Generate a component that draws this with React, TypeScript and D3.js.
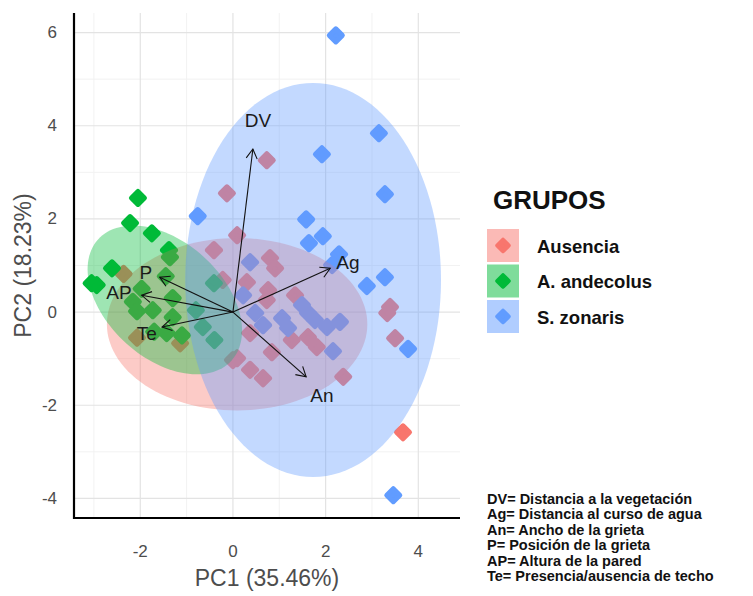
import React from "react";
import * as d3 from "d3";

// groups and colours (ggplot defaults)
const groupNames = ["Ausencia", "A. andecolus", "S. zonaris"];
const groupColors = ["#F8766D", "#00BA38", "#619CFF"];

// individuals, [PC1, PC2]
const ausencia: [number, number][] = [
  [0.73, 3.26], [-0.13, 2.55], [0.09, 1.65], [-0.41, 1.33], [0.8, 1.16],
  [0.91, 0.94], [0.3, 0.64], [0.76, 0.47], [0.73, 0.26], [1.34, 0.36],
  [1.27, -0.6], [1.62, -0.54], [1.81, -0.75], [0.84, -0.86], [0.09, -0.99],
  [0.37, -1.24], [0.65, -1.42], [0.37, -0.45], [2.38, -1.39], [3.39, 0.11],
  [3.33, -0.02], [3.5, -0.56], [3.67, -2.58], [-2.36, 0.82], [-2.07, -0.55],
  [-1.14, -0.67], [-0.22, 0.69], [0.0, -1.03],
];
const andecolus: [number, number][] = [
  [-2.05, 2.45], [-2.22, 1.91], [-1.75, 1.69], [-1.38, 1.33], [-1.36, 1.18],
  [-2.61, 0.94], [-2.94, 0.58], [-3.05, 0.62], [-1.97, 0.5], [-1.45, 0.77],
  [-2.16, 0.22], [-2.07, 0.02], [-1.73, 0.04], [-1.3, 0.3], [-1.3, -0.11],
  [-1.43, -0.45], [-1.7, -0.42], [-0.41, 0.62], [-0.65, -0.32], [-0.4, -0.6],
  [-0.8, 0.04], [-1.1, -0.5],
];
const zonaris: [number, number][] = [
  [2.22, 5.94], [3.15, 3.84], [1.92, 3.39], [3.28, 2.53], [-0.76, 2.06],
  [1.58, 1.99], [1.94, 1.63], [1.64, 1.48], [2.29, 1.24], [2.14, 1.01],
  [3.28, 0.75], [2.89, 0.56], [3.78, -0.79], [2.16, -0.84], [2.31, -0.21],
  [2.03, -0.32], [0.37, 1.07], [0.48, -0.02], [0.65, -0.28], [1.06, -0.13],
  [1.19, -0.34], [1.49, 0.15], [1.62, -0.02], [1.77, -0.17], [0.22, 0.36],
  [3.46, -3.93],
];
const groupPoints = [ausencia, andecolus, zonaris];

// confidence ellipses per group
const ellipseCx = [0.09, -1.47, 1.73];
const ellipseCy = [-0.26, 0.26, 0.69];
const ellipseRx = [2.81, 1.94, 2.76];
const ellipseRy = [1.85, 1.25, 4.23];
const ellipseAngle = [0, -42, 0];

// variables (loadings)
const varNames = ["DV", "Ag", "An", "P", "AP", "Te"];
const varPC1 = [0.43, 2.1, 1.58, -1.58, -1.97, -1.53];
const varPC2 = [3.5, 0.94, -1.39, 0.75, 0.36, -0.32];
const varLabelPC1 = [0.54, 2.48, 1.92, -1.88, -2.46, -1.86];
const varLabelPC2 = [4.12, 1.07, -1.78, 0.86, 0.41, -0.45];

const xTicks = [-2, 0, 2, 4];
const yTicks = [-4, -2, 0, 2, 4, 6];
const xMinor = [-3, -1, 1, 3];
const yMinor = [-3, -1, 1, 3, 5];

const notes = [
  "DV= Distancia a la vegetación",
  "Ag= Distancia al curso de agua",
  "An= Ancho de la grieta",
  "P= Posición de la grieta",
  "AP= Altura de la pared",
  "Te= Presencia/ausencia de techo",
];

const W = 753, H = 596;
const panel = { left: 74, right: 460, top: 13, bottom: 518 };

const x = d3.scaleLinear().domain([-3.43, 4.9]).range([panel.left, panel.right]);
const y = d3.scaleLinear().domain([-4.42, 6.42]).range([panel.bottom, panel.top]);

const diamond = (cx: number, cy: number, r: number) =>
  `M${cx},${cy - r}L${cx + r},${cy}L${cx},${cy + r}L${cx - r},${cy}Z`;

function ellipsePath(i: number) {
  const a = (ellipseAngle[i] * Math.PI) / 180;
  const pts: [number, number][] = d3.range(0, 361, 3).map((deg) => {
    const t = (deg * Math.PI) / 180;
    const ex = ellipseRx[i] * Math.cos(t), ey = ellipseRy[i] * Math.sin(t);
    return [
      ellipseCx[i] + ex * Math.cos(a) - ey * Math.sin(a),
      ellipseCy[i] + ex * Math.sin(a) + ey * Math.cos(a),
    ];
  });
  return d3.line<[number, number]>().x((d) => x(d[0])).y((d) => y(d[1]))(pts) + "Z";
}

function arrowHead(i: number) {
  const x0 = x(0), y0 = y(0);
  const x1 = x(varPC1[i]), y1 = y(varPC2[i]);
  const ang = Math.atan2(y1 - y0, x1 - x0);
  const len = 11, spread = Math.PI / 6;
  const p1 = [x1 - len * Math.cos(ang - spread), y1 - len * Math.sin(ang - spread)];
  const p2 = [x1 - len * Math.cos(ang + spread), y1 - len * Math.sin(ang + spread)];
  return `M${p1[0]},${p1[1]}L${x1},${y1}L${p2[0]},${p2[1]}`;
}

export default function App() {
  const axisFont = "'Liberation Sans', Arial, sans-serif";
  return (
    <svg width={W} height={H} style={{ position: "absolute", left: 0, top: 0, background: "#fff" }}>
      {/* grid */}
      <g>
        {xMinor.map((v) => (
          <line key={"xm" + v} x1={x(v)} x2={x(v)} y1={panel.top} y2={panel.bottom} stroke="#f2f2f2" strokeWidth={1} />
        ))}
        {yMinor.map((v) => (
          <line key={"ym" + v} y1={y(v)} y2={y(v)} x1={panel.left} x2={panel.right} stroke="#f2f2f2" strokeWidth={1} />
        ))}
        {xTicks.map((v) => (
          <line key={"x" + v} x1={x(v)} x2={x(v)} y1={panel.top} y2={panel.bottom} stroke="#e3e3e3" strokeWidth={1.2} />
        ))}
        {yTicks.map((v) => (
          <line key={"y" + v} y1={y(v)} y2={y(v)} x1={panel.left} x2={panel.right} stroke="#e3e3e3" strokeWidth={1.2} />
        ))}
      </g>

      {/* points */}
      {groupPoints.map((pts, g) => (
        <g key={"pts" + g}>
          {pts.map((d, j) => (
            <path key={j} d={diamond(x(d[0]), y(d[1]), 6.5)} fill={groupColors[g]} stroke={groupColors[g]}
              strokeWidth={5} strokeLinejoin="round" />
          ))}
        </g>
      ))}

      {/* ellipses */}
      {groupNames.map((n, i) => (
        <path key={"el" + n} d={ellipsePath(i)} fill={groupColors[i]} fillOpacity={0.38} stroke="none" />
      ))}

      {/* variable arrows */}
      <g stroke="#111" strokeWidth={1.1} fill="none">
        {varNames.map((n, i) => (
          <g key={"arr" + n}>
            <line x1={x(0)} y1={y(0)} x2={x(varPC1[i])} y2={y(varPC2[i])} />
            <path d={arrowHead(i)} />
          </g>
        ))}
      </g>
      {varNames.map((n, i) => (
        <text key={"lab" + n} x={x(varLabelPC1[i])} y={y(varLabelPC2[i])} textAnchor="middle"
          dominantBaseline="central" fontFamily={axisFont} fontSize={19} fill="#1a1a1a">{n}</text>
      ))}

      {/* axes */}
      <line x1={panel.left} x2={panel.left} y1={panel.top} y2={panel.bottom + 1} stroke="#000" strokeWidth={2.2} />
      <line x1={panel.left - 1} x2={panel.right} y1={panel.bottom} y2={panel.bottom} stroke="#000" strokeWidth={2.2} />
      {xTicks.map((v) => (
        <text key={"xt" + v} x={x(v)} y={551} textAnchor="middle" dominantBaseline="central"
          fontFamily={axisFont} fontSize={17} fill="#4d4d4d">{v}</text>
      ))}
      {yTicks.map((v) => (
        <text key={"yt" + v} x={57} y={y(v)} textAnchor="end" dominantBaseline="central"
          fontFamily={axisFont} fontSize={17} fill="#4d4d4d">{v}</text>
      ))}
      <text x={(panel.left + panel.right) / 2} y={578} textAnchor="middle" dominantBaseline="central"
        fontFamily={axisFont} fontSize={23} fill="#4d4d4d">PC1 (35.46%)</text>
      <text transform={`translate(23,${(panel.top + panel.bottom) / 2}) rotate(-90)`} textAnchor="middle"
        dominantBaseline="central" fontFamily={axisFont} fontSize={23} fill="#4d4d4d">PC2 (18.23%)</text>

      {/* legend */}
      <text x={493} y={209} fontFamily={axisFont} fontWeight="bold" fontSize={26} fill="#111">GRUPOS</text>
      {groupNames.map((n, i) => (
        <g key={"leg" + n} transform={`translate(487,${229 + i * 35.5})`}>
          <rect width={32} height={33} fill={groupColors[i]} fillOpacity={0.5} />
          <path d={diamond(16, 16.5, 5.5)} fill={groupColors[i]} stroke={groupColors[i]} strokeWidth={4.5} strokeLinejoin="round" />
          <text x={50} y={17} dominantBaseline="central" fontFamily={axisFont} fontWeight="bold" fontSize={18.5} fill="#111">{n}</text>
        </g>
      ))}

      {/* notes */}
      {notes.map((t, i) => (
        <text key={"note" + i} x={487} y={499 + i * 15.4} dominantBaseline="central" fontFamily={axisFont}
          fontWeight="bold" fontSize={14.5} fill="#111">{t}</text>
      ))}
    </svg>
  );
}
